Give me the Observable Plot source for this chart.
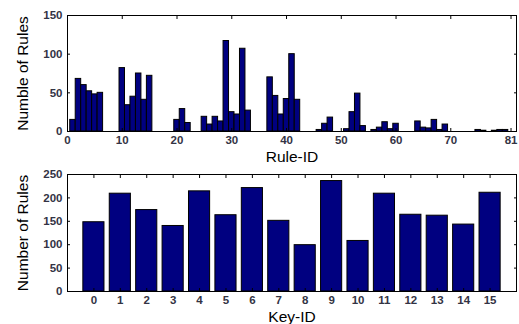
<!DOCTYPE html>
<html>
<head>
<meta charset="utf-8">
<script src="https://cdn.jsdelivr.net/npm/d3@7"></script>
<script src="https://cdn.jsdelivr.net/npm/@observablehq/plot@0.6"></script>
<style>
  html, body { margin: 0; padding: 0; background: #fff; }
  #chart { width: 519px; height: 324px; overflow: hidden; }
  #chart svg { display: block; }
</style>
</head>
<body>
<div id="chart"></div>
<script>
// Top panel: number of rules per Rule-ID (1..81)
const ruleIds = d3.range(1, 82);
const ruleCounts = [
  15, 68, 60, 52, 48, 50, 0, 0, 0, 82,
  34, 45, 75, 41, 72, 0, 0, 0, 0, 15,
  29, 11, 0, 0, 19, 9, 19, 13, 117, 25,
  22, 107, 27, 0, 0, 0, 70, 46, 22, 42,
  100, 41, 0, 0, 0, 2, 10, 18, 0, 0,
  3, 25, 49, 7, 0, 2, 5, 12, 3, 10,
  0, 0, 0, 13, 5, 4, 15, 2, 9, 0,
  0, 0, 0, 0, 2, 1, 0, 1, 2, 2,
  0
];
const ruleTicks = [0, 10, 20, 30, 40, 50, 60, 70, 81];
const ruleYTicks = [0, 50, 100, 150];

// Bottom panel: number of rules per Key-ID (0..15)
const keyIds = d3.range(0, 16);
const keyCounts = [148, 209, 174, 140, 214, 163, 221, 151, 99, 236, 108, 209, 164, 162, 143, 211];
const keyYTicks = [0, 50, 100, 150, 200, 250];

const barFill = "#000080";
const tickColor = "#333344";
const fontFamily = "'Liberation Sans', Arial, sans-serif";

function panel({ids, counts, halfWidth, xDomain, xTicks, yDomain, yTicks, height, marginTop, marginBottom, yLabel, xLabel, xLabelDy}) {
  const data = ids.map((id, i) => ({id, count: counts[i]}));
  return Plot.plot({
    width: 519,
    height,
    marginLeft: 67,
    marginRight: 3,
    marginTop,
    marginBottom,
    style: {fontFamily, fontSize: "11.5px", background: "white", overflow: "visible"},
    x: {type: "linear", domain: xDomain},
    y: {domain: yDomain},
    marks: [
      Plot.rectY(data, {
        x1: d => d.id - halfWidth,
        x2: d => d.id + halfWidth,
        y: "count",
        fill: barFill,
        stroke: "#000",
        strokeWidth: 1
      }),
      Plot.frame({stroke: "#000", strokeWidth: 1}),
      Plot.axisX({anchor: "bottom", ticks: xTicks, tickSize: -3, tickPadding: 7, tickFormat: d => String(d), label: null, fill: tickColor, fontWeight: "bold"}),
      Plot.axisX({anchor: "top", ticks: xTicks, tickSize: -3, tickFormat: () => "", label: null}),
      Plot.axisY({anchor: "left", ticks: yTicks, tickSize: -3, tickPadding: 8, tickFormat: d => String(d), label: null, fill: tickColor, fontWeight: "bold"}),
      Plot.axisY({anchor: "right", ticks: yTicks, tickSize: -3, tickFormat: () => "", label: null}),
      Plot.text([yLabel], {
        frameAnchor: "left",
        text: d => d,
        rotate: -90,
        dx: -44,
        fontSize: 15.5,
        fill: "#000",
        textAnchor: "middle",
        lineAnchor: "middle"
      }),
      Plot.text([xLabel], {
        frameAnchor: "bottom",
        text: d => d,
        dy: xLabelDy,
        fontSize: 15.5,
        fill: "#000",
        textAnchor: "middle",
        lineAnchor: "middle"
      })
    ]
  });
}

const topPanel = panel({
  ids: ruleIds, counts: ruleCounts, halfWidth: 0.5,
  xDomain: [0, 82], xTicks: ruleTicks,
  yDomain: [0, 150], yTicks: ruleYTicks,
  height: 166, marginTop: 15, marginBottom: 35,
  yLabel: "Numble of Rules", xLabel: "Rule-ID", xLabelDy: 26
});

const bottomPanel = panel({
  ids: keyIds, counts: keyCounts, halfWidth: 0.4,
  xDomain: [-1, 16], xTicks: keyIds,
  yDomain: [0, 250], yTicks: keyYTicks,
  height: 158, marginTop: 8, marginBottom: 33,
  yLabel: "Number of Rules", xLabel: "Key-ID", xLabelDy: 26
});

const root = document.getElementById("chart");
root.appendChild(topPanel);
root.appendChild(bottomPanel);
</script>
</body>
</html>
